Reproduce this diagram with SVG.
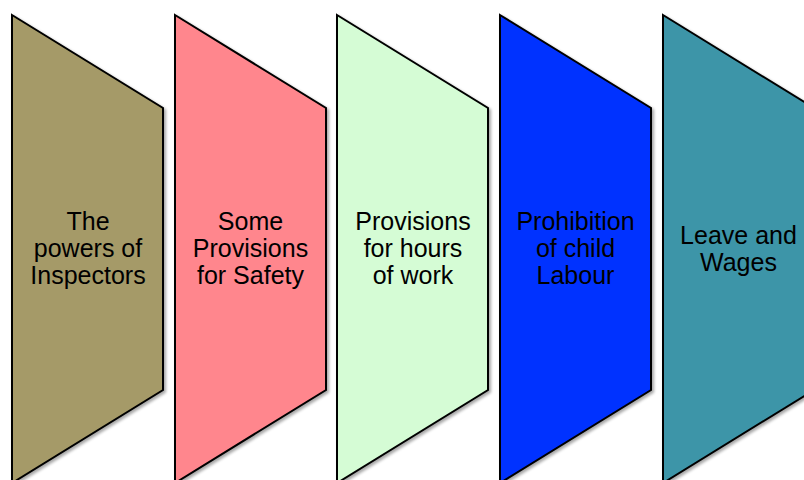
<svg xmlns="http://www.w3.org/2000/svg" width="804" height="480" viewBox="0 0 804 480">
<defs>
<filter id="sh" x="-10%" y="-10%" width="130%" height="130%">
<feGaussianBlur in="SourceAlpha" stdDeviation="1.5"/>
<feOffset dx="2" dy="2" result="b"/>
<feComponentTransfer><feFuncA type="linear" slope="0.35"/></feComponentTransfer>
<feMerge><feMergeNode/><feMergeNode in="SourceGraphic"/></feMerge>
</filter>
<polygon id="chev" points="0,15 151,108 151,390 0,483"/>
</defs>
<style>
.s{stroke:#000;stroke-width:2;stroke-linejoin:miter;filter:url(#sh)}
.t{font-family:"Liberation Sans",Arial,sans-serif;font-size:25px;fill:#000;text-anchor:middle}
</style>
<rect width="804" height="480" fill="#fff"/>
<g id="connectors"></g>
<g id="n1">
<use href="#chev" x="12" class="s" fill="#A59A67"/>
<text class="t"><tspan x="88" y="230">The</tspan><tspan x="88" y="257">powers of</tspan><tspan x="88" y="284">Inspectors</tspan></text>
</g>
<g id="n2">
<use href="#chev" x="175" class="s" fill="#FF868D"/>
<text class="t"><tspan x="250.5" y="230">Some</tspan><tspan x="250.5" y="257">Provisions</tspan><tspan x="250.5" y="284">for Safety</tspan></text>
</g>
<g id="n3">
<use href="#chev" x="337" class="s" fill="#D5FCD5"/>
<text class="t"><tspan x="413" y="230">Provisions</tspan><tspan x="413" y="257">for hours</tspan><tspan x="413" y="284">of work</tspan></text>
</g>
<g id="n4">
<use href="#chev" x="500" class="s" fill="#0433FF"/>
<text class="t"><tspan x="575.5" y="230">Prohibition</tspan><tspan x="575.5" y="257">of child</tspan><tspan x="575.5" y="284">Labour</tspan></text>
</g>
<g id="n5">
<use href="#chev" x="663" class="s" fill="#3E95A8"/>
<text class="t"><tspan x="738.5" y="244">Leave and</tspan><tspan x="738.5" y="271">Wages</tspan></text>
</g>
</svg>
